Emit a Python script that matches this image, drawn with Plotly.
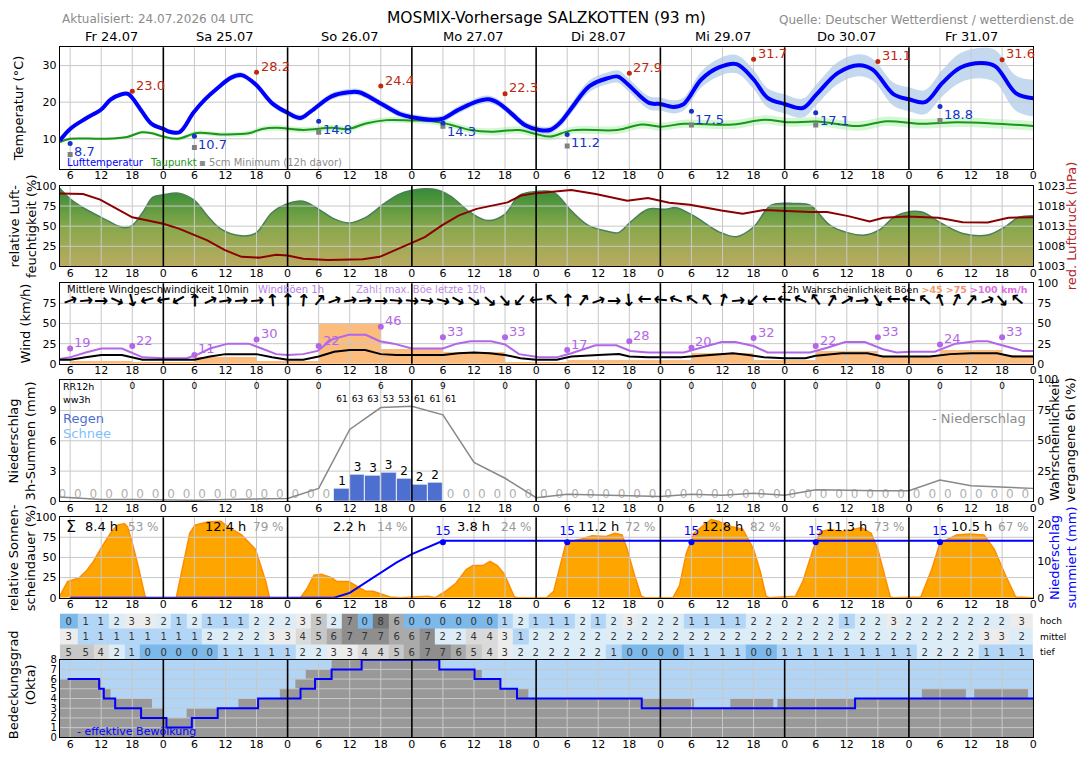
import plotly.graph_objects as go

FONT = "DejaVu Sans"
W, H = 1088, 763
XL, XR = 60, 1037

# ---------------------------------------------------------------- data
title = "MOSMIX-Vorhersage SALZKOTTEN (93 m)"
updated = "Aktualisiert: 24.07.2026 04 UTC"
source = "Quelle: Deutscher Wetterdienst / wetterdienst.de"
day_labels = ["Fr 24.07", "Sa 25.07", "So 26.07", "Mo 27.07", "Di 28.07", "Mi 29.07", "Do 30.07", "Fr 31.07"]
day_label_h = [14, 36, 60, 84, 108, 132, 156, 180]
day_bounds = [24, 48, 72, 96, 120, 144, 168]
tick_h = [6, 12, 18, 24, 30, 36, 42, 48, 54, 60, 66, 72, 78, 84, 90, 96, 102, 108, 114, 120,
          126, 132, 138, 144, 150, 156, 162, 168, 174, 180, 186, 192]
tick_txt = ["6", "12", "18", "0"] * 8

# temperature (hours since Fr 00 UTC)
temp_h = [4, 6, 9.1, 12, 13.8, 15.8, 17.1, 18, 19.8, 21.8, 24, 25, 27.1, 29.8, 32, 34.5, 37.1, 39.1, 41.8, 45.1,
          48, 50.5, 52.5, 56.5, 59.8, 61.8, 65.8, 69.8, 72, 76, 78, 80.7, 84, 86.7, 88.7, 91.3, 94, 96.6, 98.7, 100.7,
          102.9, 106.3, 109.7, 111.8, 113.7, 117.8, 120, 122.5, 124.5, 127.9, 131.3, 134.7, 138, 140.7, 144, 147.5,
          150.2, 154.3, 158.3, 161, 165, 168, 171.1, 174.5, 177.9, 182, 184.7, 188.7, 192]
temp = [9.5, 12.7, 15.6, 18.0, 20.7, 22.1, 22.3, 21.2, 17.6, 14.0, 12.7, 12.0, 11.8, 17.1, 20.7, 23.9, 26.7, 27.4, 24.9, 19.6,
        17.1, 15.7, 17.5, 21.6, 22.7, 22.7, 19.8, 16.7, 15.9, 15.2, 15.5, 17.7, 19.9, 20.8, 19.8, 16.8, 13.6, 12.4, 12.4, 14.5,
        18.5, 24.4, 26.5, 27.0, 24.9, 19.8, 19.5, 18.7, 19.5, 26.2, 29.5, 30.4, 26.2, 21.2, 19.5, 18.4,
        22.2, 28.0, 30.1, 28.9, 22.2, 20.8, 20.0, 25.3, 29.4, 30.7, 29.8, 22.4, 21.1]
temp_spread = [0.5, 0.5, 0.5, 0.5, 0.5, 0.5, 0.5, 0.5, 0.5, 0.5, 0.6, 0.6, 0.6, 0.7, 0.7, 0.7, 0.8, 0.8, 0.8, 0.8,
               0.8, 0.8, 0.8, 0.9, 0.9, 0.9, 0.9, 0.9, 0.9, 0.9, 0.9, 1.0, 1.0, 1.0, 1.0, 1.0, 1.0, 1.0, 1.0, 1.2,
               1.4, 1.6, 1.6, 1.7, 1.8, 1.8, 1.8, 1.8, 1.8, 2.2, 2.4, 2.5, 2.6, 2.6, 2.6, 2.6,
               2.8, 3.0, 3.0, 3.0, 3.2, 3.3, 3.3, 3.6, 4.0, 4.2, 4.4, 4.8, 5.0]
dew_h = [4, 6, 12.5, 17, 19.8, 21.8, 24, 26.8, 30.5, 35.1, 40.5, 43.1, 45.8, 51.1, 56.5, 59.8, 63.1, 67.1, 72, 76,
         79.3, 83.3, 87.3, 92.7, 96, 98.7, 102.9, 111.7, 116.4, 120, 124.5, 134, 140.1, 144.8, 150.2, 158.3, 163.7,
         170.5, 177.2, 184, 192]
dew = [9.1, 10.0, 10.0, 10.5, 11.8, 11.5, 10.6, 10.0, 11.6, 11.2, 11.5, 12.7, 13.0, 12.4, 13.0, 12.7, 14.2, 15.1, 15.0, 14.8,
       13.9, 12.4, 11.9, 12.4, 11.3, 10.6, 12.3, 12.4, 13.9, 13.3, 14.1, 13.9, 15.2, 14.5, 14.7, 13.5, 14.8,
       14.1, 14.5, 14.2, 13.5]
dew_spread = [0.3, 0.3, 0.3, 0.3, 0.4, 0.4, 0.4, 0.5, 0.6, 0.6, 0.7, 0.7, 0.8, 0.8, 0.8, 0.8, 0.8, 0.8, 0.8, 0.9,
              0.9, 0.9, 1.0, 1.0, 1.0, 1.0, 1.0, 1.1, 1.1, 1.1, 1.1, 1.2, 1.2, 1.2, 1.2, 1.3, 1.3,
              1.3, 1.3, 1.3, 1.3]
tmax_h = [18, 42, 66, 90, 114, 138, 162, 186]
tmax = [23.0, 28.2, 24.4, 22.3, 27.9, 31.7, 31.1, 31.6]
tmin_h = [6, 30, 54, 78, 102, 126, 150, 174]
tmin = [8.7, 10.7, 14.8, 14.3, 11.2, 17.5, 17.1, 18.8]
t5cm = [5.7, 7.6, 11.8, 13.4, 8.0, 13.8, 13.8, 15.0]

# humidity / pressure
hum_h = [4, 6, 9, 12, 15, 16.5, 18, 20, 22, 24, 27, 30, 32.5, 35, 39, 41.8, 45, 48, 51, 54.5,
         57, 59.8, 63.1, 67.1, 70.5, 76, 79.3, 83.3, 86.7, 90, 92.7, 96, 99.4, 102.8, 106.1, 109.5, 111.9, 114.2, 117.6, 121,
         123, 126.4, 131.3, 134.7, 138, 141.4, 146, 148.9, 152.8, 156.1, 159.5, 162.2, 165.6, 170.3, 174.4, 178.4,
         183.2, 186.5, 189.2, 192]
hum = [97, 84, 71, 61, 51, 48, 51, 67, 86, 89, 91, 82, 63, 47, 38, 41, 67, 78, 81, 69,
       59, 54, 61, 80, 92, 96, 88, 67, 57, 65, 88, 93, 92, 69, 51, 44, 42, 55, 71, 71,
       73, 63, 43, 37, 49, 76, 78, 76, 51, 42, 39, 45, 63, 68, 53, 41, 39, 49, 61, 63]
pres_h = [4, 8.5, 11.8, 14.5, 18, 21, 24, 27, 30, 32.5, 35.8, 39.1, 42.5, 45.8, 48, 51, 55.8, 62.5, 65.8, 69.1,
          72, 74.5, 77.8, 81.1, 84.5, 87.8, 90.5, 93.1, 96, 102.8, 107.5, 113.6, 117.6, 121.7, 125.7, 131.8, 135.9, 140,
          144.6, 148.9, 152.2, 156.3, 160.4, 163.1, 167.6, 173.7, 178.4, 183.2, 187.2, 192]
pres = [1021.1, 1021.0, 1019.6, 1017.7, 1015.2, 1014.4, 1013.6, 1012.4, 1010.8, 1009.5, 1007.1, 1005.4, 1005.2, 1005.9,
        1005.7, 1004.9, 1004.6, 1004.8, 1005.4, 1007.3, 1008.9, 1010.3, 1013.2, 1015.7, 1017.3, 1018.1, 1018.9, 1020.6,
        1021.2, 1022.0, 1021.0, 1019.3, 1020.0, 1018.8, 1018.3, 1016.9, 1016.1, 1017.0, 1016.7, 1016.5, 1016.5, 1015.5,
        1014.2, 1015.1, 1015.4, 1015.1, 1014.0, 1013.9, 1015.1, 1015.2]

# wind
gust_h = [4, 6, 9, 12, 16, 18, 20, 24, 28.5, 30.8, 33, 36.5, 40.5, 43, 45.8, 48, 51, 53.8, 56.5, 59.8,
          63.1, 65.8, 68.5, 72, 78, 80.7, 83.3, 87.3, 90, 92.7, 96.6, 100, 102.8, 107.5, 111.5, 114.2, 117.6, 124.5,
          127.9, 131.8, 134.5, 138, 140.7, 148.9, 152.2, 155.7, 159.5, 163, 165.6, 168.3, 173, 177, 181, 183.2,
          186.5, 190, 192]
gust = [6, 8, 14, 19, 19, 14, 8, 7, 7, 12, 19, 25, 25, 19, 12, 11, 12, 16, 30, 36,
        36, 28, 25, 19, 19, 25, 28, 28, 24, 12, 8, 8, 13, 23, 23, 16, 14, 14, 20, 27,
        27, 22, 14, 14, 20, 27, 27, 18, 14, 15, 15, 25, 28, 28, 22, 16, 16]
wind_h = [4, 6, 9, 12, 16, 18, 20, 24, 30, 33, 36, 42, 45, 48, 51, 54, 57, 60, 63, 66,
          69, 72, 78, 81, 84, 87, 90, 93, 96, 100, 102.8, 108, 112, 114, 117.6, 124, 126, 129, 134, 137,
          140, 144, 148, 150, 155, 160, 163, 168, 172, 176, 180, 185, 188, 192]
wind = [5, 5, 8, 11, 11, 8, 5, 5, 5, 9, 12, 12, 8, 5, 5, 9, 15, 17, 17, 12,
        11, 11, 11, 13, 14, 13, 11, 7, 5, 5, 9, 11, 12, 9, 8, 8, 9, 11, 13, 11,
        8, 7, 7, 10, 13, 13, 9, 9, 9, 12, 13, 13, 9, 9]
gustprob_h = [12, 24, 36, 48, 60, 72, 84, 96, 108, 120, 132, 144, 156, 168, 180, 192]
gustprob45 = [3, 2, 8, 3, 50, 18, 15, 2, 5, 4, 13, 4, 16, 9, 17, 11]
gmax_h = [6, 18, 30, 42, 54, 66, 78, 90, 102, 114, 126, 138, 150, 162, 174, 186]
gmax = [19, 22, 11, 30, 22, 46, 33, 33, 17, 28, 20, 32, 22, 33, 24, 33]
wdir_h = [6, 9, 12, 15, 18, 21, 24, 27, 30, 33, 36, 39, 42, 45, 48, 51, 54, 57, 60, 63, 66, 69, 72, 75, 78, 81, 84,
          87, 90, 93, 96, 99, 102, 105, 108, 111, 114, 117, 120, 123, 126, 129, 132, 135, 138, 141, 144, 147, 150,
          153, 156, 159, 162, 165, 168, 171, 174, 177, 180, 183, 186, 189]
wdir = [250, 265, 270, 295, 345, 75, 80, 60, 180, 245, 260, 265, 265, 175, 180, 185, 220, 250, 260, 265, 270, 275,
        275, 280, 285, 300, 305, 310, 320, 40, 85,
        130, 180, 215, 250, 270, 355, 90, 95, 110, 125, 145, 195, 265, 45, 90, 95, 115, 145, 210, 240, 265, 330,
        90, 100, 130, 160, 205, 220, 250, 320, 130]

# precipitation (3h sums, interval centres)
prec_h = [4.5, 7.5, 10.5, 13.5, 16.5, 19.5, 22.5, 25.5, 28.5, 31.5, 34.5, 37.5, 40.5, 43.5, 46.5, 49.5, 52.5, 55.5,
          58.5, 61.5, 64.5, 67.5, 70.5, 73.5, 76.5, 79.5, 82.5, 85.5, 88.5, 91.5, 94.5, 97.5, 100.5, 103.5, 106.5,
          109.5, 112.5, 115.5, 118.5, 121.5, 124.5, 127.5, 130.5, 133.5, 136.5, 139.5, 142.5, 145.5, 148.5, 151.5,
          154.5, 157.5, 160.5, 163.5, 166.5, 169.5, 172.5, 175.5, 178.5, 181.5, 184.5, 187.5, 190.5]
prec = [0, 0, 0, 0, 0, 0, 0, 0, 0, 0, 0, 0, 0, 0, 0, 0, 0, 0,
        1.3, 2.7, 2.6, 2.9, 2.3, 1.7, 1.9, 0, 0, 0, 0, 0, 0, 0, 0, 0, 0,
        0, 0, 0, 0, 0, 0, 0, 0, 0, 0, 0, 0, 0, 0, 0,
        0, 0, 0, 0, 0, 0, 0, 0, 0, 0, 0, 0, 0]
rr12_h = [18, 30, 42, 54, 66, 78, 90, 102, 114, 126, 138, 150, 162, 174, 186]
rr12 = [0, 0, 0, 0, 6, 9, 0, 0, 0, 0, 0, 0, 0, 0, 0]
ww_h = [58.5, 61.5, 64.5, 67.5, 70.5, 73.5, 76.5, 79.5]
ww = [61, 63, 63, 53, 53, 61, 61, 61]
prob_h = [4, 12, 18, 24, 30, 36, 42, 48, 54, 60, 66, 72, 78, 84, 90, 96, 102, 108, 114, 120, 126, 132, 138, 144,
          150, 156, 162, 168, 174, 180, 186, 192]
prob = [3.7, 1.5, 1.5, 1.0, 1.0, 1.5, 2.0, 2.4, 10.7, 59, 77, 78, 71, 32, 19, 3, 5.9, 5.3, 5, 4, 5.9, 5, 6.7, 5,
        9.6, 9, 8.8, 8.8, 17.6, 12.8, 11.8, 10.7]

# sunshine
sun_h = [4, 5.5, 6, 7.8, 9.1, 10.5, 12, 13.8, 15.1, 16.5, 17.1, 18, 19.1, 20.5, 21,
         26.5, 27.8, 29.1, 30.1, 32.5, 35.1, 36.5, 39.1, 41.8, 43.8, 44.5,
         50.5, 51.8, 53.1, 54.5, 56.5, 57.5, 59.8, 61.1, 63.1, 64.5, 65.8, 67.8, 69.8,
         75.1, 76.5, 78.5, 80.5, 82.5, 83.8, 85.8, 87.1, 88.5, 89.8, 91.8, 92.5,
         98, 99.4, 100.7, 101.7, 102.8, 104.8, 106.8, 109.5, 111.2, 112.6, 113.6, 114.9, 116.3, 117,
         122.4, 123.7, 125, 126.5, 128.4, 129.8, 131.1, 133.8, 135.9, 138, 139.4, 140.4, 141,
         146.1, 147.5, 149.5, 150.9, 152.9, 154.8, 156.8, 158.8, 160.7, 162, 163.7, 164.4, 165,
         170.3, 172.4, 174, 177.2, 179.8, 182.5, 184.5, 186.5, 188.6, 192]
sun = [2, 20, 21, 25, 33, 45, 62, 80, 90, 92, 88, 68, 40, 1, 0,
       0, 40, 80, 90, 94, 95, 88, 78, 60, 20, 0,
       0, 12, 28, 29, 25, 20, 20, 15, 8, 8, 5, 1, 0,
       2, 0, 8, 18, 35, 40, 40, 45, 40, 30, 1, 0,
       0, 8, 40, 66, 70, 73, 77, 76, 80, 78, 60, 30, 2, 0,
       0, 15, 55, 80, 90, 97, 95, 88, 85, 60, 30, 2, 0,
       2, 20, 60, 82, 85, 82, 84, 87, 80, 60, 20, 1, 0,
       1, 35, 68, 78, 79, 78, 60, 30, 1, 0]
sun_sum_h = [8.4, 12.4, 2.2, 3.8, 11.2, 12.8, 11.3, 10.5]
sun_pct = [53, 79, 14, 24, 72, 82, 73, 67]
acc_h = [6, 57, 60, 63, 66, 69, 72, 75, 78, 192]
acc = [0, 0, 1.3, 4.0, 6.6, 9.5, 11.8, 13.5, 15.4, 15.4]
acc_lab_h = [78, 102, 126, 150, 174]
acc_lab = [15, 15, 15, 15, 15]

# cloud layers (okta), 3-hourly
cl_h = [6, 9, 12, 15, 18, 21, 24, 27, 30, 33, 36, 39, 42, 45, 48, 51, 54, 57, 60, 63, 66, 69, 72, 75, 78, 81, 84,
        87, 90, 93, 96, 99, 102, 105, 108, 111, 114, 117, 120, 123, 126, 129, 132, 135, 138, 141, 144, 147, 150,
        153, 156, 159, 162, 165, 168, 171, 174, 177, 180, 183, 186, 189]
cl_hoch = [0, 1, 1, 2, 3, 3, 2, 1, 2, 1, 1, 1, 2, 2, 2, 3, 5, 2, 7, 0, 8, 6, 0, 0, 0, 0, 0, 0, 1, 2, 1,
           1, 1, 2, 1, 2, 3, 2, 2, 2, 1, 1, 1, 1, 2, 2, 2, 2, 2, 2, 1, 2, 2, 3, 2, 2, 2, 2, 2, 2, 2, 3]
cl_mittel = [3, 1, 1, 1, 1, 1, 1, 1, 1, 2, 2, 2, 2, 3, 3, 4, 5, 6, 7, 7, 7, 6, 6, 7, 2, 2, 4, 4, 3, 1, 2,
             2, 2, 2, 2, 2, 2, 2, 2, 2, 2, 2, 2, 2, 2, 2, 2, 2, 2, 2, 2, 2, 2, 2, 2, 2, 2, 2, 2, 3, 3, 2]
cl_tief = [5, 5, 4, 2, 1, 0, 0, 0, 0, 0, 1, 1, 1, 1, 1, 2, 2, 3, 3, 4, 4, 5, 6, 7, 7, 6, 5, 4, 3, 2, 2,
           2, 2, 2, 2, 1, 0, 0, 0, 0, 1, 1, 1, 1, 0, 0, 1, 1, 1, 1, 1, 1, 1, 1, 1, 2, 2, 2, 2, 1, 1, 1]
tot_h = [4, 12, 13.8, 21.8, 24.1, 28.5, 38.5, 46.5, 49.5, 51.5, 56.5, 77.5, 85.5, 89.1, 94.5, 126.5, 133.5,
         141.8, 142.6, 170.5, 179, 180.6, 191, 192]
tot = [6, 5, 4, 3, 2, 3, 4, 5, 6, 7, 8, 7, 6, 5, 4, 3, 4, 3, 4, 5, 4, 5, 4, 4]
eff_h = [5.5, 11.6, 12.5, 14.7, 19.7, 24.6, 29.5, 34.5, 42.3, 50.5, 53.3, 56.5, 62.3, 77.3, 84.1, 89.1, 92.3,
         116.4, 157.6, 192]
eff = [6, 5, 4, 3, 2, 1, 2, 3, 4, 5, 6, 7, 8, 7, 6, 5, 4, 3, 4, 4]

# ---------------------------------------------------------------- layout helpers
P = {'temp': (42, 166), 'hum': (183, 265), 'wind': (282, 364), 'prec': (380, 504),
     'sun': (520, 602), 'tab': (618, 665), 'cld': (665, 744)}


def fx(px):
    return px / W


def fy(py):
    return 1 - py / H


def dom(p):
    return [fy(P[p][1]), fy(P[p][0])]


fig = go.Figure()
ann = []
shapes = []
GRID = '#c8c8c8'


def A(text, x, y, xref='paper', yref='paper', size=12, color='black', xa='center', ya='middle', angle=0,
      xs=0, ys=0):
    ann.append(dict(text=text, x=x, y=y, xref=xref, yref=yref, showarrow=False, textangle=angle,
                    font=dict(size=size, color=color, family=FONT), xanchor=xa, yanchor=ya,
                    xshift=xs, yshift=ys))


def grid(xa, ya, y0, y1, yt):
    xs, ys = [], []
    for h in tick_h:
        if h % 24 == 0:
            continue
        xs += [h, h, None]
        ys += [y0, y1, None]
    for v in yt:
        xs += [4, 192, None]
        ys += [v, v, None]
    fig.add_trace(go.Scatter(x=xs, y=ys, mode='lines', line=dict(color=GRID, width=1),
                             xaxis=xa, yaxis=ya, hoverinfo='skip'))


def daylines(xa, ya):
    for d in day_bounds:
        shapes.append(dict(type='line', xref=xa, yref=ya + ' domain', x0=d, x1=d, y0=0, y1=1,
                           line=dict(color='black', width=1.6), layer='above'))


# ---------------------------------------------------------------- temperature
t_hi = [a + b for a, b in zip(temp, temp_spread)]
t_lo = [a - b for a, b in zip(temp, temp_spread)]
d_hi = [a + b for a, b in zip(dew, dew_spread)]
d_lo = [a - b for a, b in zip(dew, dew_spread)]
fig.add_trace(go.Scatter(x=dew_h, y=d_hi, mode='lines', line=dict(width=0, shape='spline'), xaxis='x', yaxis='y'))
fig.add_trace(go.Scatter(x=dew_h, y=d_lo, mode='lines', line=dict(width=0, shape='spline'), fill='tonexty',
                         fillcolor='#d3f7d3', xaxis='x', yaxis='y'))
fig.add_trace(go.Scatter(x=temp_h, y=t_hi, mode='lines', line=dict(width=0, shape='spline'), xaxis='x', yaxis='y'))
fig.add_trace(go.Scatter(x=temp_h, y=t_lo, mode='lines', line=dict(width=0, shape='spline'), fill='tonexty',
                         fillcolor='#c4d9ef', xaxis='x', yaxis='y'))
grid('x', 'y', 1.7, 35, [10, 20, 30])
fig.add_trace(go.Scatter(x=dew_h, y=dew, mode='lines', line=dict(color='#1a961a', width=2, shape='spline'),
                         xaxis='x', yaxis='y'))
fig.add_trace(go.Scatter(x=temp_h, y=temp, mode='lines', line=dict(color='#0000ff', width=4, shape='spline'),
                         xaxis='x', yaxis='y'))
fig.add_trace(go.Scatter(x=tmin_h, y=t5cm, mode='markers', marker=dict(color='#808080', size=5, symbol='square'),
                         xaxis='x', yaxis='y'))
fig.add_trace(go.Scatter(x=tmin_h, y=tmin, mode='markers', marker=dict(color='#1434c8', size=5),
                         xaxis='x', yaxis='y'))
fig.add_trace(go.Scatter(x=tmax_h, y=tmax, mode='markers', marker=dict(color='#c0280f', size=5),
                         xaxis='x', yaxis='y'))
for h, v in zip(tmin_h, tmin):
    A(f"{v:.1f}", h, v, xref='x', yref='y', size=13, color='#1434c8', xa='left', xs=2, ys=-8)
for h, v in zip(tmax_h, tmax):
    A(f"{v:.1f}", h, v, xref='x', yref='y', size=13, color='#c0280f', xa='left', xs=2, ys=6)

# ---------------------------------------------------------------- humidity + pressure
fig.add_trace(go.Scatter(x=hum_h, y=hum, mode='lines', line=dict(color='#4b7f5b', width=1.5, shape='spline'),
                         fill='tozeroy',
                         fillgradient=dict(type='vertical', start=0, stop=100,
                                           colorscale=[[0, '#bcab62'], [0.5, '#87a84b'], [1, '#2f8a35']]),
                         xaxis='x2', yaxis='y2'))
grid('x2', 'y2', 0, 100, [25, 50, 75])
fig.add_trace(go.Scatter(x=pres_h, y=pres, mode='lines', line=dict(color='#8b0000', width=2),
                         xaxis='x2', yaxis='y3'))

# ---------------------------------------------------------------- wind
fig.add_trace(go.Bar(x=gustprob_h, y=gustprob45, width=12, marker=dict(color='#fbbc7e', line=dict(width=0)),
                     xaxis='x3', yaxis='y4'))
grid('x3', 'y4', 0, 100, [25, 50, 75])
fig.add_trace(go.Scatter(x=gust_h, y=gust, mode='lines', line=dict(color='#b266e8', width=2),
                         xaxis='x3', yaxis='y4'))
fig.add_trace(go.Scatter(x=wind_h, y=wind, mode='lines', line=dict(color='black', width=2),
                         xaxis='x3', yaxis='y4'))
fig.add_trace(go.Scatter(x=gmax_h, y=gmax, mode='markers', marker=dict(color='#b266e8', size=6),
                         xaxis='x3', yaxis='y4'))
for h, v in zip(gmax_h, gmax):
    A(str(v), h, v, xref='x3', yref='y4', size=13, color='#b266e8', xa='left', xs=2, ys=6)
fig.add_trace(go.Scatter(x=[None], y=[None], xaxis='x3', yaxis='y5'))
for h, d in zip(wdir_h, wdir):
    A("<b>→</b>", h, 79, xref='x3', yref='y4', size=17, angle=(d + 90) % 360)

# ---------------------------------------------------------------- precipitation
bar_h = [h for h, v in zip(prec_h, prec) if v > 0]
bar_v = [v for v in prec if v > 0]
zero_h = [h for h, v in zip(prec_h, prec) if v == 0]
fig.add_trace(go.Bar(x=bar_h, y=bar_v, width=3, marker=dict(color='#4d6fcf', line=dict(color='white', width=0.8)),
                     xaxis='x4', yaxis='y6'))
grid('x4', 'y6', 0, 12.06, [3, 6, 9])
fig.add_trace(go.Scatter(x=bar_h, y=bar_v, mode='text', text=[str(round(v)) for v in bar_v],
                         textposition='top center', textfont=dict(size=12, color='black', family=FONT),
                         xaxis='x4', yaxis='y6'))
fig.add_trace(go.Scatter(x=zero_h, y=[0] * len(zero_h), mode='text', text=['0'] * len(zero_h),
                         textposition='top center', textfont=dict(size=12, color='#b0b0b0', family=FONT),
                         xaxis='x4', yaxis='y6'))
fig.add_trace(go.Scatter(x=rr12_h, y=[11.3] * len(rr12_h), mode='text', text=[str(v) for v in rr12],
                         textfont=dict(size=9, color='black', family=FONT), xaxis='x4', yaxis='y6'))
fig.add_trace(go.Scatter(x=ww_h, y=[10.1] * len(ww_h), mode='text', text=[str(v) for v in ww],
                         textfont=dict(size=9, color='black', family=FONT), xaxis='x4', yaxis='y6'))
fig.add_trace(go.Scatter(x=prob_h, y=prob, mode='lines', line=dict(color='#888888', width=1.5),
                         xaxis='x4', yaxis='y7'))

# ---------------------------------------------------------------- sunshine + accumulated precip
fig.add_trace(go.Scatter(x=sun_h, y=sun, mode='lines', line=dict(color='#ff8c00', width=1.5), fill='tozeroy',
                         fillcolor='#ffa500', xaxis='x5', yaxis='y8'))
grid('x5', 'y8', 0, 100, [25, 50, 75])
fig.add_trace(go.Scatter(x=acc_h, y=acc, mode='lines', line=dict(color='#0000ff', width=2),
                         xaxis='x5', yaxis='y9'))
fig.add_trace(go.Scatter(x=acc_lab_h, y=acc_lab, mode='markers+text', marker=dict(color='#0000ff', size=6),
                         text=[str(v) for v in acc_lab], textposition='top center', cliponaxis=False,
                         textfont=dict(color='#0000ff', size=12, family=FONT), xaxis='x5', yaxis='y9'))
for i, (s, p) in enumerate(zip(sun_sum_h, sun_pct)):
    A(f"{s} h", 12 + 24 * i, 88, xref='x5', yref='y8', size=13)
    A(f"{p} %", 23.6 + 24 * i, 88, xref='x5', yref='y8', size=12, color='#999999', xa='right')
A("Σ", 4.8, 88, xref='x5', yref='y8', size=16, xa='left')

# ---------------------------------------------------------------- cloud table
cmap = ['#7cb8ea', '#b3d6f6', '#dcedf8', '#ececec', '#dadada', '#c7c7c7', '#aaaaaa', '#8e8e8e', '#787878']
cs = []
for i, c in enumerate(cmap):
    cs += [[i / 9, c], [(i + 1) / 9, c]]
zt = [cl_tief, cl_mittel, cl_hoch]
cl_edges = [4] + [h + 1.5 for h in cl_h[:-1]] + [192]
fig.add_trace(go.Heatmap(x=cl_edges, y=[0, 1, 2], z=zt, zmin=-0.5, zmax=8.5, colorscale=cs, showscale=False,
                         text=[[str(v) for v in row] for row in zt], texttemplate='%{text}',
                         textfont=dict(size=10, color='#333333', family=FONT), xaxis='x6', yaxis='y10',
                         hoverinfo='skip'))

# ---------------------------------------------------------------- cloud cover
fig.add_trace(go.Scatter(x=[4, 192], y=[8, 8], mode='lines', line=dict(width=0), fill='tozeroy',
                         fillcolor='#b3d5f5', xaxis='x7', yaxis='y11'))
fig.add_trace(go.Scatter(x=tot_h, y=tot, mode='lines', line=dict(width=0, shape='hv'), fill='tozeroy',
                         fillcolor='#999999', xaxis='x7', yaxis='y11'))
grid('x7', 'y11', 0, 8, [1, 2, 3, 4, 5, 6, 7])
fig.add_trace(go.Scatter(x=eff_h, y=eff, mode='lines', line=dict(color='#0000ff', width=2, shape='hv'),
                         xaxis='x7', yaxis='y11'))

# ---------------------------------------------------------------- axes
xcommon = dict(range=[4, 192], domain=[fx(XL), fx(XR)], showgrid=False, zeroline=False, showline=True,
               mirror=True, linecolor='black', linewidth=1, tickvals=tick_h, ticktext=tick_txt, ticks='',
               tickfont=dict(size=11, family=FONT, color='black'), fixedrange=True, ticklabelstandoff=-4)
ycommon = dict(showgrid=False, zeroline=False, showline=True, mirror=True, linecolor='black', linewidth=1,
               ticks='', tickfont=dict(size=11, family=FONT, color='black'), fixedrange=True)
yright = dict(showgrid=False, zeroline=False, showline=False, ticks='', side='right', ticklabelstandoff=3,
              tickfont=dict(size=11, family=FONT, color='black'), fixedrange=True)
lay = {}
lay['xaxis'] = dict(xcommon, anchor='y')
lay['yaxis'] = dict(ycommon, domain=dom('temp'), range=[1.7, 35], tickvals=[10, 20, 30], anchor='x')
lay['xaxis2'] = dict(xcommon, anchor='y2')
lay['yaxis2'] = dict(ycommon, domain=dom('hum'), range=[0, 100], tickvals=[0, 25, 50, 75, 100], anchor='x2')
lay['yaxis3'] = dict(yright, domain=dom('hum'), range=[1003, 1023], tickvals=[1003, 1008, 1013, 1018, 1023],
                     overlaying='y2', anchor='x2')
lay['xaxis3'] = dict(xcommon, anchor='y4')
lay['yaxis4'] = dict(ycommon, domain=dom('wind'), range=[0, 100], tickvals=[0, 25, 50, 75], anchor='x3')
lay['yaxis5'] = dict(yright, domain=dom('wind'), range=[0, 100], tickvals=[0, 25, 50, 75, 100],
                     overlaying='y4', anchor='x3')
lay['xaxis4'] = dict(xcommon, anchor='y6')
lay['yaxis6'] = dict(ycommon, domain=dom('prec'), range=[0, 12.06], tickvals=[0, 3, 6, 9], anchor='x4')
lay['yaxis7'] = dict(yright, domain=dom('prec'), range=[0, 100], tickvals=[0, 25, 50, 75, 100],
                     overlaying='y6', anchor='x4')
lay['xaxis5'] = dict(xcommon, anchor='y8')
lay['yaxis8'] = dict(ycommon, domain=dom('sun'), range=[0, 100], tickvals=[0, 25, 50, 75, 100], anchor='x5')
lay['yaxis9'] = dict(yright, domain=dom('sun'), range=[0, 21.8], tickvals=[0, 10, 20],
                     overlaying='y8', anchor='x5')
lay['xaxis6'] = dict(xcommon, anchor='y10', showline=False, showticklabels=False)
lay['yaxis10'] = dict(ycommon, domain=dom('tab'), range=[-0.5, 2.5], showticklabels=False, showline=False,
                      anchor='x6')
lay['xaxis7'] = dict(xcommon, anchor='y11')
lay['yaxis11'] = dict(ycommon, domain=dom('cld'), range=[0, 8], tickvals=list(range(9)), anchor='x7',
                      tickfont=dict(size=10, family=FONT, color='black'))

for xa, ya in [('x', 'y'), ('x2', 'y2'), ('x3', 'y4'), ('x4', 'y6'), ('x5', 'y8'), ('x7', 'y11')]:
    daylines(xa, ya)

# ---------------------------------------------------------------- texts
A(title, fx(549), fy(12), size=15.5)
A(updated, fx(60), fy(13), size=12, color='#8c8c8c', xa='left')
A(source, fx(1080), fy(14), size=12, color='#8c8c8c', xa='right')
for lab, h in zip(day_labels, day_label_h):
    A(lab, h, fy(31), xref='x', size=13)

A("Temperatur (°C)", fx(18), fy(104), size=13, angle=-90)
A("relative Luft-<br>feuchtigkeit (%)", fx(23), fy(224), size=13, angle=-90)
A("Wind (km/h)", fx(26), fy(323), size=13, angle=-90)
A("Niederschlag<br>3h-Summen (mm)", fx(23), fy(442), size=13, angle=-90)
A("relative Sonnen-<br>scheindauer (%)", fx(23), fy(561), size=13, angle=-90)
A("Bedeckungsgrad<br>(Okta)", fx(22), fy(690), size=13, angle=-90)
A("red. Luftdruck (hPa)", fx(1075), fy(224), size=13, color='#b22222', angle=-90)
A("Wahrscheinlichkeit<br>vergangene 6h (%)", fx(1067), fy(442), size=13, angle=-90)
A("Niederschlag<br>summiert (mm)", fx(1067), fy(561), size=13, color='#0000ff', angle=-90)

A("Lufttemperatur", fx(65), fy(159), size=10, color='#0000ff', xa='left')
A("Taupunkt", fx(149), fy(159), size=10, color='#1a961a', xa='left')
A("▪ 5cm Minimum (12h davor)", fx(198), fy(159), size=10, color='#8c8c8c', xa='left')

A("Mittlere Windgeschwindigkeit 10min", fx(65), fy(288), size=10, xa='left')
A("Windböen 1h", fx(257), fy(288), size=10, color='#b87fe8', xa='left')
A("Zahl: max. Böe letzte 12h", fx(355), fy(288), size=10, color='#c08ae8', xa='left')
A("12h Wahrscheinlichkeit Böen <span style='color:#f0a070'><b>&gt;45</b></span> "
  "<span style='color:#ec9478'><b>&gt;75</b></span> <span style='color:#e070e0'><b>&gt;100 km/h</b></span>",
  fx(1034), fy(288), size=9.5, xa='right')

A("RR12h", fx(61), fy(387), size=9.5, xa='left')
A("ww3h", fx(61), fy(400), size=9.5, xa='left')
A("Regen", fx(61), fy(420), size=13, color='#4d6fcf', xa='left')
A("Schnee", fx(61), fy(435), size=13, color='#7fbfff', xa='left')
A("- Niederschlag", fx(1032), fy(420), size=13, color='#8c8c8c', xa='right')

A("hoch", fx(1042), fy(626), size=9, xa='left')
A("mittel", fx(1042), fy(642), size=9, xa='left')
A("tief", fx(1042), fy(657), size=9, xa='left')
A("- effektive Bewölkung", fx(75), fy(738), size=11, color='#0000ff', xa='left')

fig.update_layout(width=W, height=H, margin=dict(l=0, r=0, t=0, b=0), paper_bgcolor='white',
                  plot_bgcolor='white', showlegend=False, annotations=ann, shapes=shapes,
                  font=dict(family=FONT), bargap=0, **lay)
fig.write_html("out.html")
